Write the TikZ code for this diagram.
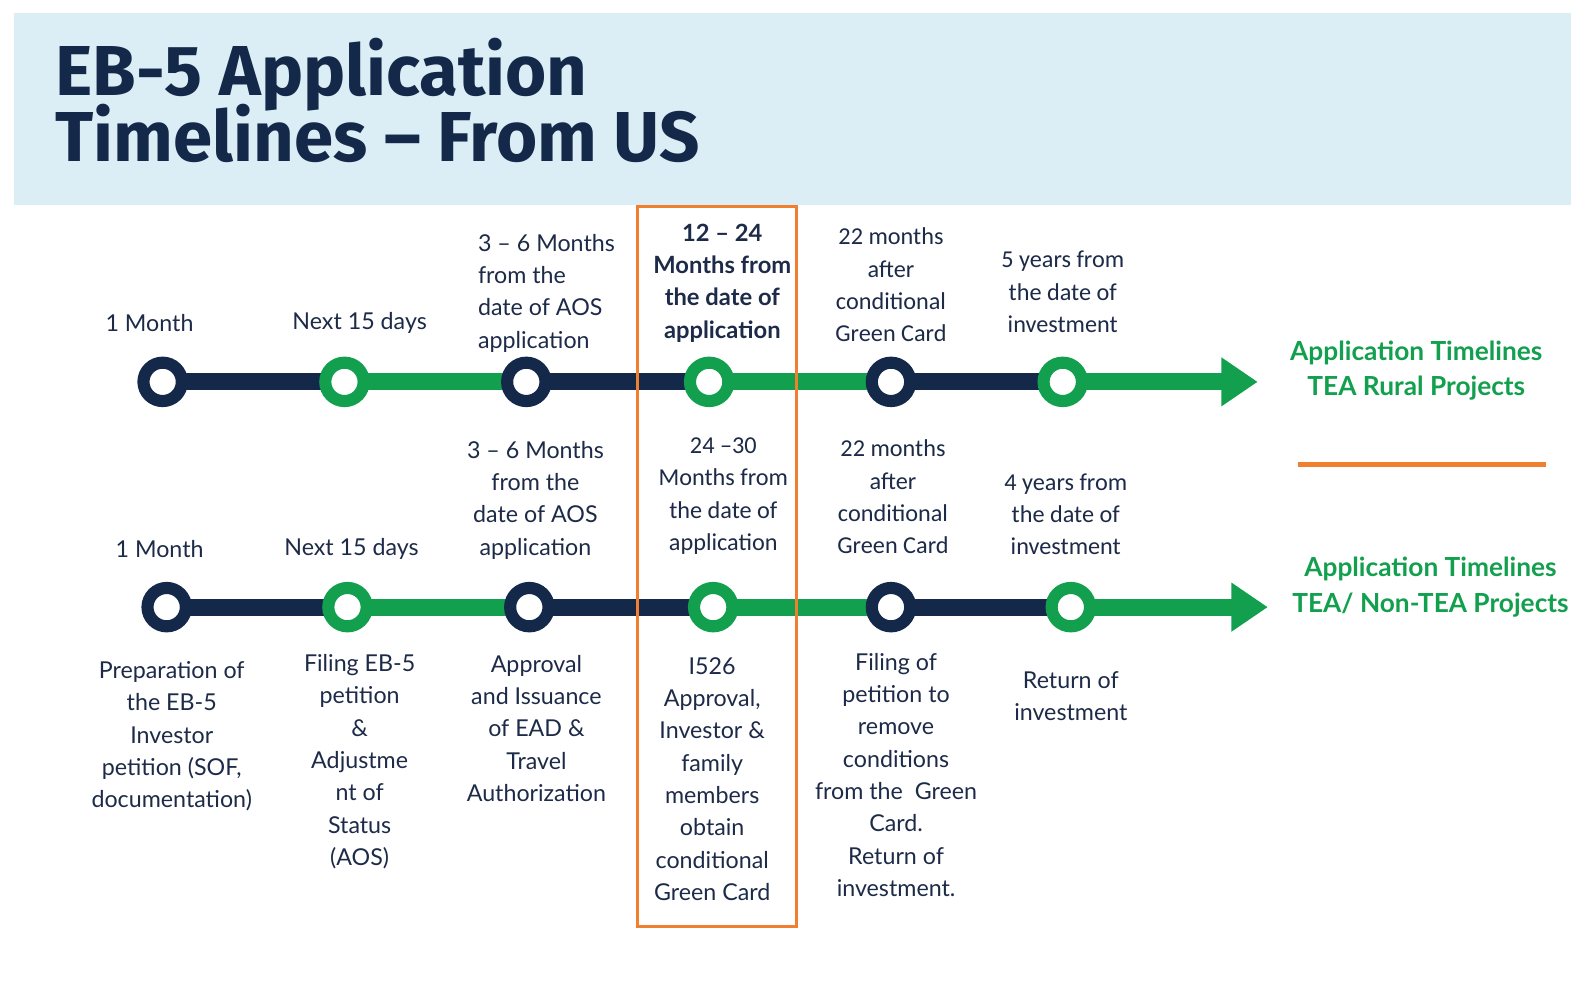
\documentclass[tikz,border=0pt]{standalone}
\usepackage{fontspec}
\setmainfont{Lato}
\newfontfamily\condfont{Carlito}
\newfontfamily\titlefont{Fira Sans}
\usetikzlibrary{arrows.meta}
\definecolor{navy}{HTML}{14284A}
\definecolor{tgreen}{HTML}{12A04E}
\definecolor{txt}{HTML}{1D2B48}
\definecolor{band}{HTML}{DBEEF6}
\definecolor{orng}{HTML}{F08030}
\tikzset{
  lbl/.style={inner sep=0pt, align=center, text=txt, font=\fontsize{23}{32}\selectfont},
  lblleft/.style={inner sep=0pt, align=left, text=txt, font=\fontsize{23}{32}\selectfont},
  boldlbl/.style={inner sep=0pt, align=center, text=txt, font=\fontsize{23.5}{32}\selectfont\bfseries},
  condlbl/.style={inner sep=0pt, align=center, text=txt, font=\condfont\fontsize{24}{32}\selectfont},
  greenlbl/.style={inner sep=0pt, align=center, text=tgreen, font=\fontsize{26}{35}\selectfont\bfseries},
  titlelbl/.style={inner sep=0pt, anchor=base west, text=navy, font=\titlefont\fontsize{70}{70}\selectfont\bfseries},
  barnavy/.style={draw=navy, line width=17pt},
  bargreen/.style={draw=tgreen, line width=17pt},
  ringnavy/.style={circle, draw=navy, fill=white, line width=12pt, minimum size=38pt, inner sep=0pt},
  ringgreen/.style={circle, draw=tgreen, fill=white, line width=12pt, minimum size=38pt, inner sep=0pt},
  tip/.style={-{Triangle[length=36pt,width=46pt]}}
}
\begin{document}
\begin{tikzpicture}[x=1pt,y=-1pt]
\useasboundingbox (0,0) rectangle (1568,983);
\fill[white] (0,0) rectangle (1568,983);
% header
\fill[band] (14,13) rectangle (1555,203);
\node[titlelbl] (title1) at (55,95) {EB-5 Application};
\node[titlelbl] (title2) at (55,160) {Timelines – From US};

% timeline 1
\coordinate (p1) at (161,378);
\coordinate (p2) at (341,378);
\coordinate (p3) at (521,378);
\coordinate (p4) at (702,378);
\coordinate (p5) at (882,378);
\coordinate (p6) at (1052,378);
\coordinate (e1) at (1245,378);
\draw[barnavy] (p1) -- (p2);
\draw[bargreen] (p2) -- (p3);
\draw[barnavy] (p3) -- (p4);
\draw[bargreen] (p4) -- (p5);
\draw[barnavy] (p5) -- (p6);
\draw[bargreen, tip] (p6) -- (e1);
\node[ringnavy] (c1) at (p1) {};
\node[ringgreen] (c2) at (p2) {};
\node[ringnavy] (c3) at (p3) {};
\node[ringgreen] (c4) at (p4) {};
\node[ringnavy] (c5) at (p5) {};
\node[ringgreen] (c6) at (p6) {};

% timeline 2
\coordinate (q1) at (165,601);
\coordinate (q2) at (344,601);
\coordinate (q3) at (524,601);
\coordinate (q4) at (706,601);
\coordinate (q5) at (882,601);
\coordinate (q6) at (1060,601);
\coordinate (e2) at (1255,601);
\draw[barnavy] (q1) -- (q2);
\draw[bargreen] (q2) -- (q3);
\draw[barnavy] (q3) -- (q4);
\draw[bargreen] (q4) -- (q5);
\draw[barnavy] (q5) -- (q6);
\draw[bargreen, tip] (q6) -- (e2);
\node[ringnavy] (d1) at (q1) {};
\node[ringgreen] (d2) at (q2) {};
\node[ringnavy] (d3) at (q3) {};
\node[ringgreen] (d4) at (q4) {};
\node[ringnavy] (d5) at (q5) {};
\node[ringgreen] (d6) at (q6) {};

% orange highlight box
\draw[orng, line width=3pt] (631,204) rectangle (788,917);

% top labels row 1
\node[lbl] (t1) at (148,320) {1 Month};
\node[lbl] (t2) at (356,320) {Next 15 days};
\node[lblleft, anchor=west] (t3) at (473,290) {3 – 6 Months\\from the\\date of AOS\\application};
\node[boldlbl] (t4) at (715,280) {12 – 24\\Months from\\the date of\\application};
\node[condlbl] (t5) at (882,282) {22 months\\after\\conditional\\Green Card};
\node[condlbl] (t6) at (1052,289) {5 years from\\the date of\\investment};
\node[greenlbl] (g1) at (1402,367) {Application Timelines\\TEA Rural Projects};
\coordinate (o1) at (1285,460);
\coordinate (o2) at (1530,460);
\draw[orng, line width=5pt] (o1) -- (o2);

% top labels row 2
\node[lbl] (u1) at (158,543) {1 Month};
\node[lbl] (u2) at (348,543) {Next 15 days};
\node[lbl] (u3) at (530,495) {3 – 6 Months\\from the\\date of AOS\\application};
\node[condlbl] (u4) at (716,491) {24 –30\\Months from\\the date of\\application};
\node[condlbl] (u5) at (884,492) {22 months\\after\\conditional\\Green Card};
\node[condlbl] (u6) at (1055,509) {4 years from\\the date of\\investment};
\node[greenlbl] (g2) at (1416,581) {Application Timelines\\TEA/ Non-TEA Projects};

% bottom labels
\node[lbl] (b1) at (170,729) {Preparation of\\the EB-5\\Investor\\petition (SOF,\\documentation)};
\node[lbl] (b2) at (356,754) {Filing EB-5\\petition\\\&\\Adjustme\\nt of\\Status\\(AOS)};
\node[lbl] (b3) at (531,721) {Approval\\and Issuance\\of EAD \&\\Travel\\Authorization};
\node[lbl] (b4) at (705,771) {I526\\Approval,\\Investor \&\\family\\members\\obtain\\conditional\\Green Card};
\node[lbl] (b5) at (887,767) {Filing of\\petition to\\remove\\conditions\\from the\ \ Green\\Card.\\Return of\\investment.};
\node[lbl] (b6) at (1060,689) {Return of\\investment};
\end{tikzpicture}
\end{document}
